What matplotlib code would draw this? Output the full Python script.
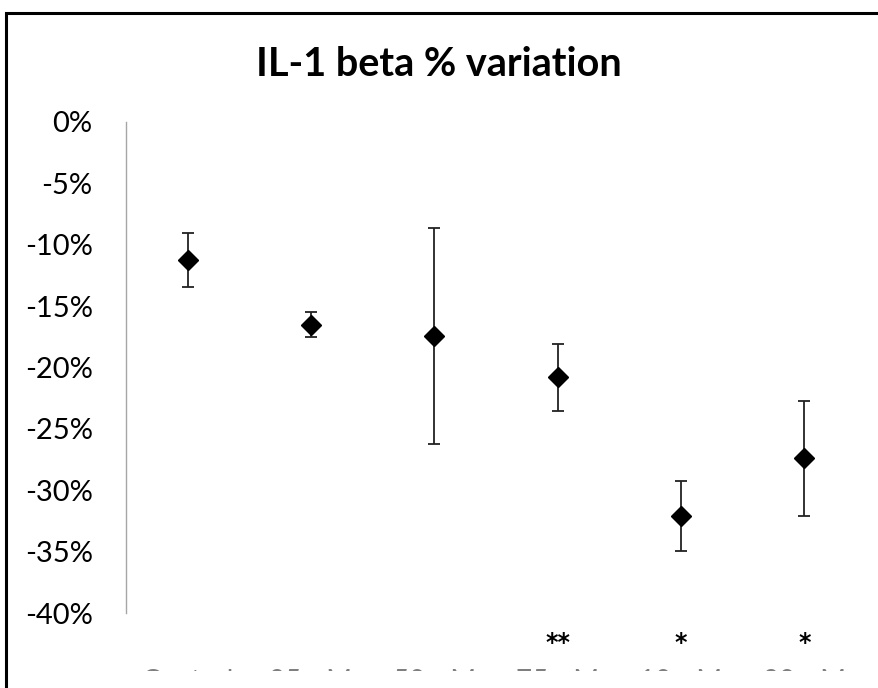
import numpy as np
from matplotlib import pyplot as plt
from matplotlib.patches import Rectangle

groups = ["Control", "25 µM", "50 µM", "75 µM", "10 µM", "20 µM"]
mean_var = [-11.25, -16.5, -17.4, -20.8, -32.1, -27.4]
err_var = [2.2, 1.0, 8.8, 2.75, 2.85, 4.7]
stars = ["", "", "", "**", "*", "*"]
y_ticks = [0, -5, -10, -15, -20, -25, -30, -35, -40]

plt.rcParams["font.family"] = ["Lato", "DejaVu Sans"]

fig = plt.figure(figsize=(8.79, 6.88), dpi=100)
ax = fig.add_axes([0.1433, 0.109, 0.842, 0.7137])

x = np.arange(len(groups)) + 0.5
ax.errorbar(x, mean_var, yerr=err_var, fmt="D", color="black", ecolor="#222222",
            markersize=10.5, elinewidth=1.3, capsize=4.5, capthick=1.3)

for xi, s in zip(x, stars):
    if s:
        ax.text(xi, -43.0, s, ha="center", va="baseline", fontsize=17,
                family="DejaVu Sans", fontweight="bold", clip_on=False)

ax.set_xlim(0, len(groups))
ax.set_ylim(-40, 0)
ax.set_yticks(y_ticks, [f"{v}%" for v in y_ticks])
ax.set_xticks(x, groups)
ax.tick_params(axis="y", length=0, pad=24, labelsize=21)
ax.tick_params(axis="x", length=0, pad=40, labelsize=20, labelcolor="#7f7f7f")

for side in ["top", "right", "bottom"]:
    ax.spines[side].set_visible(False)
ax.spines["left"].set_color("#a6a6a6")
ax.spines["left"].set_linewidth(1.0)

fig.text(0.4994, 1 - 65 / 688, "IL-1 beta % variation", ha="center", va="center",
         fontsize=28.5, fontweight="bold")

# the category labels are cut off at the bottom in the original screenshot
fig.patches.append(Rectangle((8 / 879, 0), 1, 17 / 688, transform=fig.transFigure,
                             facecolor="white", edgecolor="none"))

# chart frame
fig.patches.append(Rectangle((6 / 879, -0.1), 1.2, 1 - 13 / 688 + 0.1,
                             transform=fig.transFigure, fill=False,
                             edgecolor="black", linewidth=2.2))

plt.savefig("out.png", dpi=100)
